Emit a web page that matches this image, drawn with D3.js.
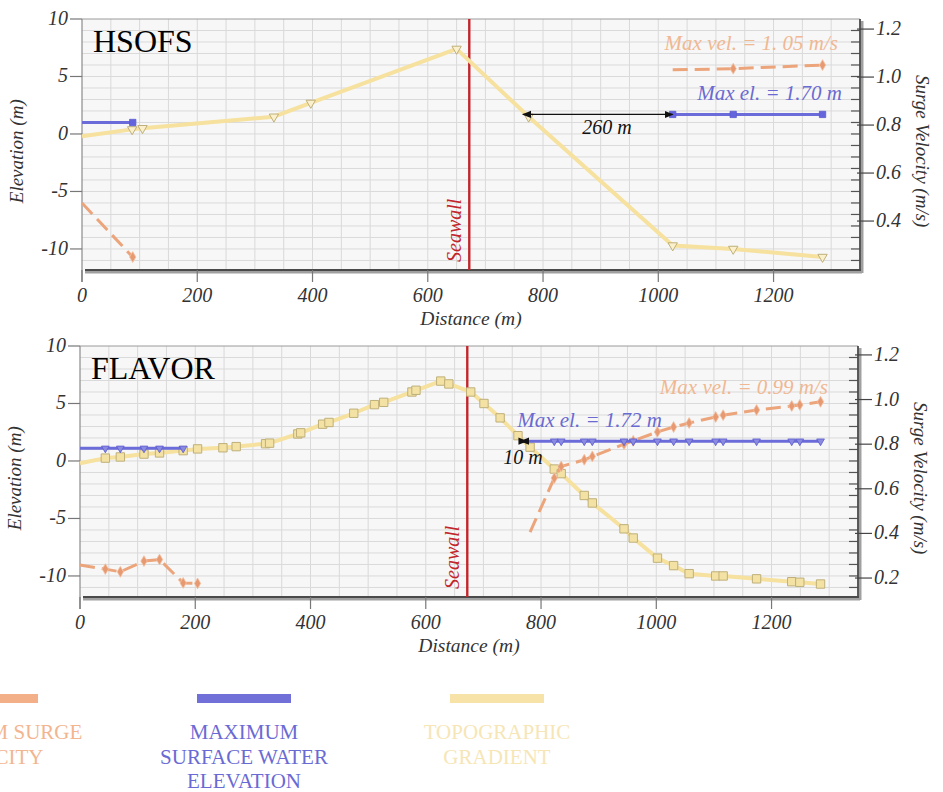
<!DOCTYPE html>
<html>
<head>
<meta charset="utf-8">
<script src="https://cdn.jsdelivr.net/npm/d3@7"></script>
<style>
  html, body { margin: 0; padding: 0; background: #ffffff; }
  svg { display: block; }
  text { font-family: 'Liberation Serif', 'Times New Roman', serif; }
</style>
</head>
<body>
<script>
// ---- shared axes ----
const distTicks = [0, 200, 400, 600, 800, 1000, 1200];
const elevTicks = [10, 5, 0, -5, -10];
const hsofsVelTicks = [1.2, 1.0, 0.8, 0.6, 0.4];
const flavorVelTicks = [1.2, 1.0, 0.8, 0.6, 0.4, 0.2];
const seawallDist = 672;

// ---- HSOFS transect ----
const hsofsTopoDist = [0, 87, 105, 333, 397, 650, 775, 1025, 1130, 1285];
const hsofsTopoElev = [-0.2, 0.4, 0.5, 1.5, 2.7, 7.4, 1.5, -9.7, -10.0, -10.7];
const hsofsWaterLeftDist = [0, 88];
const hsofsWaterLeftElev = [1.0, 1.0];
const hsofsWaterRightDist = [1025, 1130, 1285];
const hsofsWaterRightElev = [1.70, 1.70, 1.70];
const hsofsVelLeftDist = [0, 88];
const hsofsVelLeft = [0.475, 0.25];
const hsofsVelRightDist = [1025, 1130, 1285];
const hsofsVelRight = [1.03, 1.035, 1.05];
const hsofsGap = [765, 1025];

// ---- FLAVOR transect ----
const flavorTopoDist = [0, 44, 70, 111, 138, 179, 204, 248, 271, 322, 329, 378, 383, 421, 432, 475, 511, 527,
  576, 583, 626, 640, 678, 701, 729, 760, 781, 823, 835, 875, 889, 944, 960, 1002, 1030, 1057, 1103, 1116,
  1174, 1235, 1249, 1285];
const flavorTopoElev = [-0.2, 0.25, 0.35, 0.6, 0.7, 0.9, 1.05, 1.15, 1.25, 1.5, 1.55, 2.35, 2.45, 3.2, 3.35, 4.15,
  4.9, 5.1, 6.0, 6.15, 6.95, 6.7, 6.0, 5.0, 3.75, 2.2, 1.2, -0.7, -1.1, -3.0, -3.65, -5.9, -6.7, -8.45, -9.1,
  -9.8, -10.0, -10.0, -10.25, -10.5, -10.55, -10.7];
const flavorWaterLeftDist = [0, 44, 70, 111, 138, 179];
const flavorWaterLeftElev = [1.1, 1.1, 1.1, 1.1, 1.1, 1.1];
const flavorWaterRightDist = [775, 823, 835, 875, 889, 944, 960, 1002, 1030, 1057, 1103, 1116, 1174, 1235, 1249, 1285];
const flavorWaterRightElev = [1.72, 1.72, 1.72, 1.72, 1.72, 1.72, 1.72, 1.72, 1.72, 1.72, 1.72, 1.72, 1.72, 1.72, 1.72, 1.72];
const flavorVelLeftDist = [0, 44, 70, 111, 138, 179, 204];
const flavorVelLeft = [0.258, 0.24, 0.228, 0.276, 0.283, 0.178, 0.176];
const flavorVelRightDist = [781, 823, 835, 875, 889, 944, 960, 1002, 1030, 1057, 1103, 1116, 1174, 1235, 1249, 1285];
const flavorVelRight = [0.406, 0.648, 0.70, 0.73, 0.745, 0.80, 0.815, 0.855, 0.877, 0.895, 0.922, 0.93, 0.953, 0.971, 0.976, 0.99];
const flavorGap = [765, 775];

// ---- legend ----
const legendNames = [["MAXIMUM SURGE", "VELOCITY"], ["MAXIMUM", "SURFACE WATER", "ELEVATION"], ["TOPOGRAPHIC", "GRADIENT"]];
const legendBarColors = ["#f3b088", "#7070d8", "#f7e3a8"];
const legendTextColors = ["#f2b590", "#6a6ad4", "#f6e6b6"];

const C = {
  topo: "#f6e19e", topoMark: "#bfb07a",
  water: "#6b6bd9", vel: "#eca47b", velText: "#f0b892",
  waterText: "#6a6ad0", seawall: "#c2262c"
};

const svg = d3.select("body").append("svg").attr("width", 943).attr("height", 792);

const defs = svg.append("defs");
defs.append("marker").attr("id", "arrowHead")
  .attr("viewBox", "0 0 10 10").attr("refX", 9).attr("refY", 5)
  .attr("markerWidth", 7).attr("markerHeight", 7)
  .attr("orient", "auto-start-reverse")
  .append("path").attr("d", "M0,1 L10,5 L0,9 Z").attr("fill", "#111");

const zip = (xs, ys) => xs.map((x, i) => [x, ys[i]]);

function drawPanel(p) {
  const g = svg.append("g");
  const x = d3.scaleLinear().domain([0, 1350]).range([p.left, p.right]);
  const y = d3.scaleLinear().domain([-11.83, 10]).range([p.bottom, p.top]);
  const v = d3.scaleLinear().domain(p.velDomain).range([p.bottom, p.top]);

  // plot background and grid
  g.append("rect").attr("x", p.left).attr("y", p.top)
    .attr("width", p.right - p.left).attr("height", p.bottom - p.top).attr("fill", "#f7f7f7");
  g.append("g").selectAll("line").data(d3.range(50, 1350, 50)).join("line")
    .attr("x1", d => x(d)).attr("x2", d => x(d)).attr("y1", p.top).attr("y2", p.bottom)
    .attr("stroke", "#d9d9d9").attr("stroke-width", 1);
  g.append("g").selectAll("line").data(d3.range(-11, 10, 1)).join("line")
    .attr("x1", p.left).attr("x2", p.right).attr("y1", d => y(d)).attr("y2", d => y(d))
    .attr("stroke", "#dadada").attr("stroke-width", 1);

  // right-edge minor ticks at every metre
  g.append("g").selectAll("line").data(d3.range(-11, 10, 1)).join("line")
    .attr("x1", p.right - 9).attr("x2", p.right).attr("y1", d => y(d)).attr("y2", d => y(d))
    .attr("stroke", "#555").attr("stroke-width", 1.2);

  // frame
  g.append("line").attr("x1", p.left).attr("x2", p.right).attr("y1", p.top).attr("y2", p.top)
    .attr("stroke", "#9a9a9a").attr("stroke-width", 1);
  g.append("line").attr("x1", p.left + 3).attr("x2", p.right + 2).attr("y1", p.bottom + 2).attr("y2", p.bottom + 2)
    .attr("stroke", "#a0a0a0").attr("stroke-width", 3);
  g.append("line").attr("x1", p.left + 3).attr("x2", p.right + 1).attr("y1", p.bottom).attr("y2", p.bottom)
    .attr("stroke", "#4a4a4a").attr("stroke-width", 1.8);
  g.append("line").attr("x1", p.right + 2).attr("x2", p.right + 2).attr("y1", p.top + 2).attr("y2", p.bottom + 3)
    .attr("stroke", "#a0a0a0").attr("stroke-width", 3);
  g.append("line").attr("x1", p.right).attr("x2", p.right).attr("y1", p.top).attr("y2", p.bottom + 1)
    .attr("stroke", "#4a4a4a").attr("stroke-width", 1.8);
  g.append("line").attr("x1", p.left).attr("x2", p.left).attr("y1", p.top).attr("y2", p.bottom + 12)
    .attr("stroke", "#8a8a8a").attr("stroke-width", 1.2);

  // distance axis
  const xa = g.append("g");
  xa.selectAll("line").data(distTicks).join("line")
    .attr("x1", d => x(d)).attr("x2", d => x(d)).attr("y1", p.bottom).attr("y2", p.bottom + 12)
    .attr("stroke", "#777").attr("stroke-width", 1.2);
  xa.selectAll("text").data(distTicks).join("text")
    .attr("x", d => x(d)).attr("y", p.bottom + 32).attr("text-anchor", "middle")
    .attr("font-size", 20).attr("font-style", "italic").attr("fill", "#333").text(d => d);
  g.append("text").attr("x", (p.left + p.right) / 2 + 0).attr("y", p.bottom + 55)
    .attr("text-anchor", "middle").attr("font-size", 19.5).attr("font-style", "italic").attr("fill", "#333")
    .text("Distance (m)");

  // elevation axis
  const ya = g.append("g");
  ya.selectAll("line").data(elevTicks).join("line")
    .attr("x1", p.left - 12).attr("x2", p.left).attr("y1", d => y(d)).attr("y2", d => y(d))
    .attr("stroke", "#777").attr("stroke-width", 1.2);
  ya.selectAll("text").data(elevTicks).join("text")
    .attr("x", p.left - 14).attr("y", d => y(d) + 6).attr("text-anchor", "end")
    .attr("font-size", 20).attr("font-style", "italic").attr("fill", "#333").text(d => d);
  g.append("text").attr("transform", `translate(${p.left - 59},${y(-1.5)}) rotate(-90)`)
    .attr("text-anchor", "middle").attr("font-size", 19).attr("font-style", "italic").attr("fill", "#333")
    .text("Elevation (m)");

  // velocity axis
  const va = g.append("g");
  va.selectAll("line").data(p.velTicks).join("line")
    .attr("x1", p.right - 3).attr("x2", p.right + 14).attr("y1", d => v(d)).attr("y2", d => v(d))
    .attr("stroke", "#444").attr("stroke-width", 1.2);
  va.selectAll("text").data(p.velTicks).join("text")
    .attr("x", p.right + 16).attr("y", d => v(d) + 6).attr("text-anchor", "start")
    .attr("font-size", 20).attr("font-style", "italic").attr("fill", "#333").text(d => d.toFixed(1));
  g.append("text").attr("transform", `translate(${p.right + 56},${y(-1.5)}) rotate(90)`)
    .attr("text-anchor", "middle").attr("font-size", 19).attr("font-style", "italic").attr("fill", "#333")
    .text("Surge Velocity (m/s)");

  // seawall
  g.append("line").attr("x1", x(seawallDist)).attr("x2", x(seawallDist)).attr("y1", p.top).attr("y2", p.bottom)
    .attr("stroke", C.seawall).attr("stroke-width", 2.4);
  g.append("text").attr("transform", `translate(${x(seawallDist) - 8},${p.bottom - 8}) rotate(-90)`)
    .attr("text-anchor", "start").attr("font-size", 20).attr("font-style", "italic").attr("fill", C.seawall)
    .text("Seawall");

  // panel title
  g.append("text").attr("x", p.left + 11).attr("y", p.top + 33).attr("font-size", 32).attr("fill", "#000")
    .text(p.title);

  const elevLine = d3.line().x(d => x(d[0])).y(d => y(d[1]));
  const velLine = d3.line().x(d => x(d[0])).y(d => v(d[1]));

  // topographic gradient
  const topo = zip(p.topoDist, p.topoElev);
  g.append("path").attr("d", elevLine(topo)).attr("fill", "none")
    .attr("stroke", C.topo).attr("stroke-width", 4).attr("stroke-linejoin", "round");
  g.append("g").selectAll("path").data(topo.slice(1)).join("path")
    .attr("transform", d => `translate(${x(d[0])},${y(d[1])})${p.topoSymbol === "tri" ? " rotate(180)" : ""}`)
    .attr("d", d3.symbol().type(p.topoSymbol === "tri" ? d3.symbolTriangle : d3.symbolSquare).size(p.topoSymbol === "tri" ? 38 : 70))
    .attr("fill", p.topoSymbol === "tri" ? "#fbf0cc" : "#f3e2a4")
    .attr("stroke", C.topoMark).attr("stroke-width", 1);

  // surge velocity (right axis)
  p.vel.forEach(s => {
    const pts = zip(s.dist, s.val);
    g.append("path").attr("d", velLine(pts)).attr("fill", "none")
      .attr("stroke", C.vel).attr("stroke-width", 3).attr("stroke-dasharray", "15,7").attr("stroke-linecap", "butt");
    g.append("g").selectAll("path").data(pts.slice(1)).join("path")
      .attr("transform", d => `translate(${x(d[0])},${v(d[1])})`)
      .attr("d", d3.symbol().type(d3.symbolDiamond).size(34))
      .attr("fill", "#e79a72").attr("stroke", "#f2c0a2").attr("stroke-width", 0.8);
  });

  // maximum surface water elevation
  p.water.forEach(s => {
    const pts = zip(s.dist, s.elev);
    g.append("path").attr("d", elevLine(pts)).attr("fill", "none")
      .attr("stroke", C.water).attr("stroke-width", 3);
    g.append("g").selectAll("path").data(pts.slice(s.skipFirst ? 1 : 0)).join("path")
      .attr("transform", d => `translate(${x(d[0])},${y(d[1])})${p.waterSymbol === "tri" ? " rotate(180)" : ""}`)
      .attr("d", d3.symbol().type(p.waterSymbol === "tri" ? d3.symbolTriangle : d3.symbolSquare).size(p.waterSymbol === "tri" ? 26 : 40))
      .attr("fill", p.waterSymbol === "tri" ? "#8a8ae0" : "#6464dc")
      .attr("stroke", "#5a5ad0").attr("stroke-width", 0.8);
  });

  // distance between topography and maximum water line
  const gy = y(d3.max(p.water[p.water.length - 1].elev));
  g.append("line").attr("x1", x(p.gap[0])).attr("x2", x(p.gap[1])).attr("y1", gy).attr("y2", gy)
    .attr("stroke", "#111").attr("stroke-width", 1.3)
    .attr("marker-start", "url(#arrowHead)").attr("marker-end", "url(#arrowHead)");
  g.append("text").attr("x", p.gapLabelPos[0]).attr("y", p.gapLabelPos[1])
    .attr("text-anchor", "middle").attr("font-size", 20).attr("font-style", "italic").attr("fill", "#111")
    .text(`${p.gap[1] - p.gap[0]} m`);

  // peak value labels
  g.append("text").attr("x", p.velLabelPos[0]).attr("y", p.velLabelPos[1]).attr("text-anchor", "end")
    .attr("font-size", 21).attr("font-style", "italic").attr("fill", C.velText).text(p.velLabel);
  g.append("text").attr("x", p.elLabelPos[0]).attr("y", p.elLabelPos[1]).attr("text-anchor", "end")
    .attr("font-size", 21).attr("font-style", "italic").attr("fill", C.waterText).text(p.elLabel);
}

drawPanel({
  title: "HSOFS", left: 82, right: 860, top: 19, bottom: 270,
  velDomain: [0.196, 1.242], velTicks: hsofsVelTicks,
  topoDist: hsofsTopoDist, topoElev: hsofsTopoElev, topoSymbol: "tri", waterSymbol: "sq",
  water: [
    { dist: hsofsWaterLeftDist, elev: hsofsWaterLeftElev, skipFirst: true },
    { dist: hsofsWaterRightDist, elev: hsofsWaterRightElev, skipFirst: false }
  ],
  vel: [
    { dist: hsofsVelLeftDist, val: hsofsVelLeft },
    { dist: hsofsVelRightDist, val: hsofsVelRight }
  ],
  gap: hsofsGap, gapLabelPos: [607, 134],
  velLabel: "Max vel. = 1. 05 m/s", velLabelPos: [838, 50],
  elLabel: `Max el. = ${d3.max(hsofsWaterRightElev).toFixed(2)} m`, elLabelPos: [842, 100]
});

drawPanel({
  title: "FLAVOR", left: 80, right: 858, top: 346, bottom: 597,
  velDomain: [0.115, 1.24], velTicks: flavorVelTicks,
  topoDist: flavorTopoDist, topoElev: flavorTopoElev, topoSymbol: "sq", waterSymbol: "tri",
  water: [
    { dist: flavorWaterLeftDist, elev: flavorWaterLeftElev, skipFirst: true },
    { dist: flavorWaterRightDist, elev: flavorWaterRightElev, skipFirst: true }
  ],
  vel: [
    { dist: flavorVelLeftDist, val: flavorVelLeft },
    { dist: flavorVelRightDist, val: flavorVelRight }
  ],
  gap: flavorGap, gapLabelPos: [523, 464],
  velLabel: `Max vel. = ${d3.max(flavorVelRight).toFixed(2)} m/s`, velLabelPos: [828, 394],
  elLabel: `Max el. = ${d3.max(flavorWaterRightElev).toFixed(2)} m`, elLabelPos: [662, 427]
});

// legend (first entry runs off the left edge)
const legendCenters = [-9, 244, 497];
const lg = svg.append("g");
legendNames.forEach((lines, i) => {
  lg.append("rect").attr("x", legendCenters[i] - 47).attr("y", 694).attr("width", 94).attr("height", 9)
    .attr("fill", legendBarColors[i]);
  const t = lg.append("text").attr("text-anchor", "middle").attr("font-size", 21).attr("fill", legendTextColors[i]);
  lines.forEach((ln, j) => {
    t.append("tspan").attr("x", legendCenters[i]).attr("y", 739 + j * 24.5).text(ln);
  });
});
</script>
</body>
</html>
